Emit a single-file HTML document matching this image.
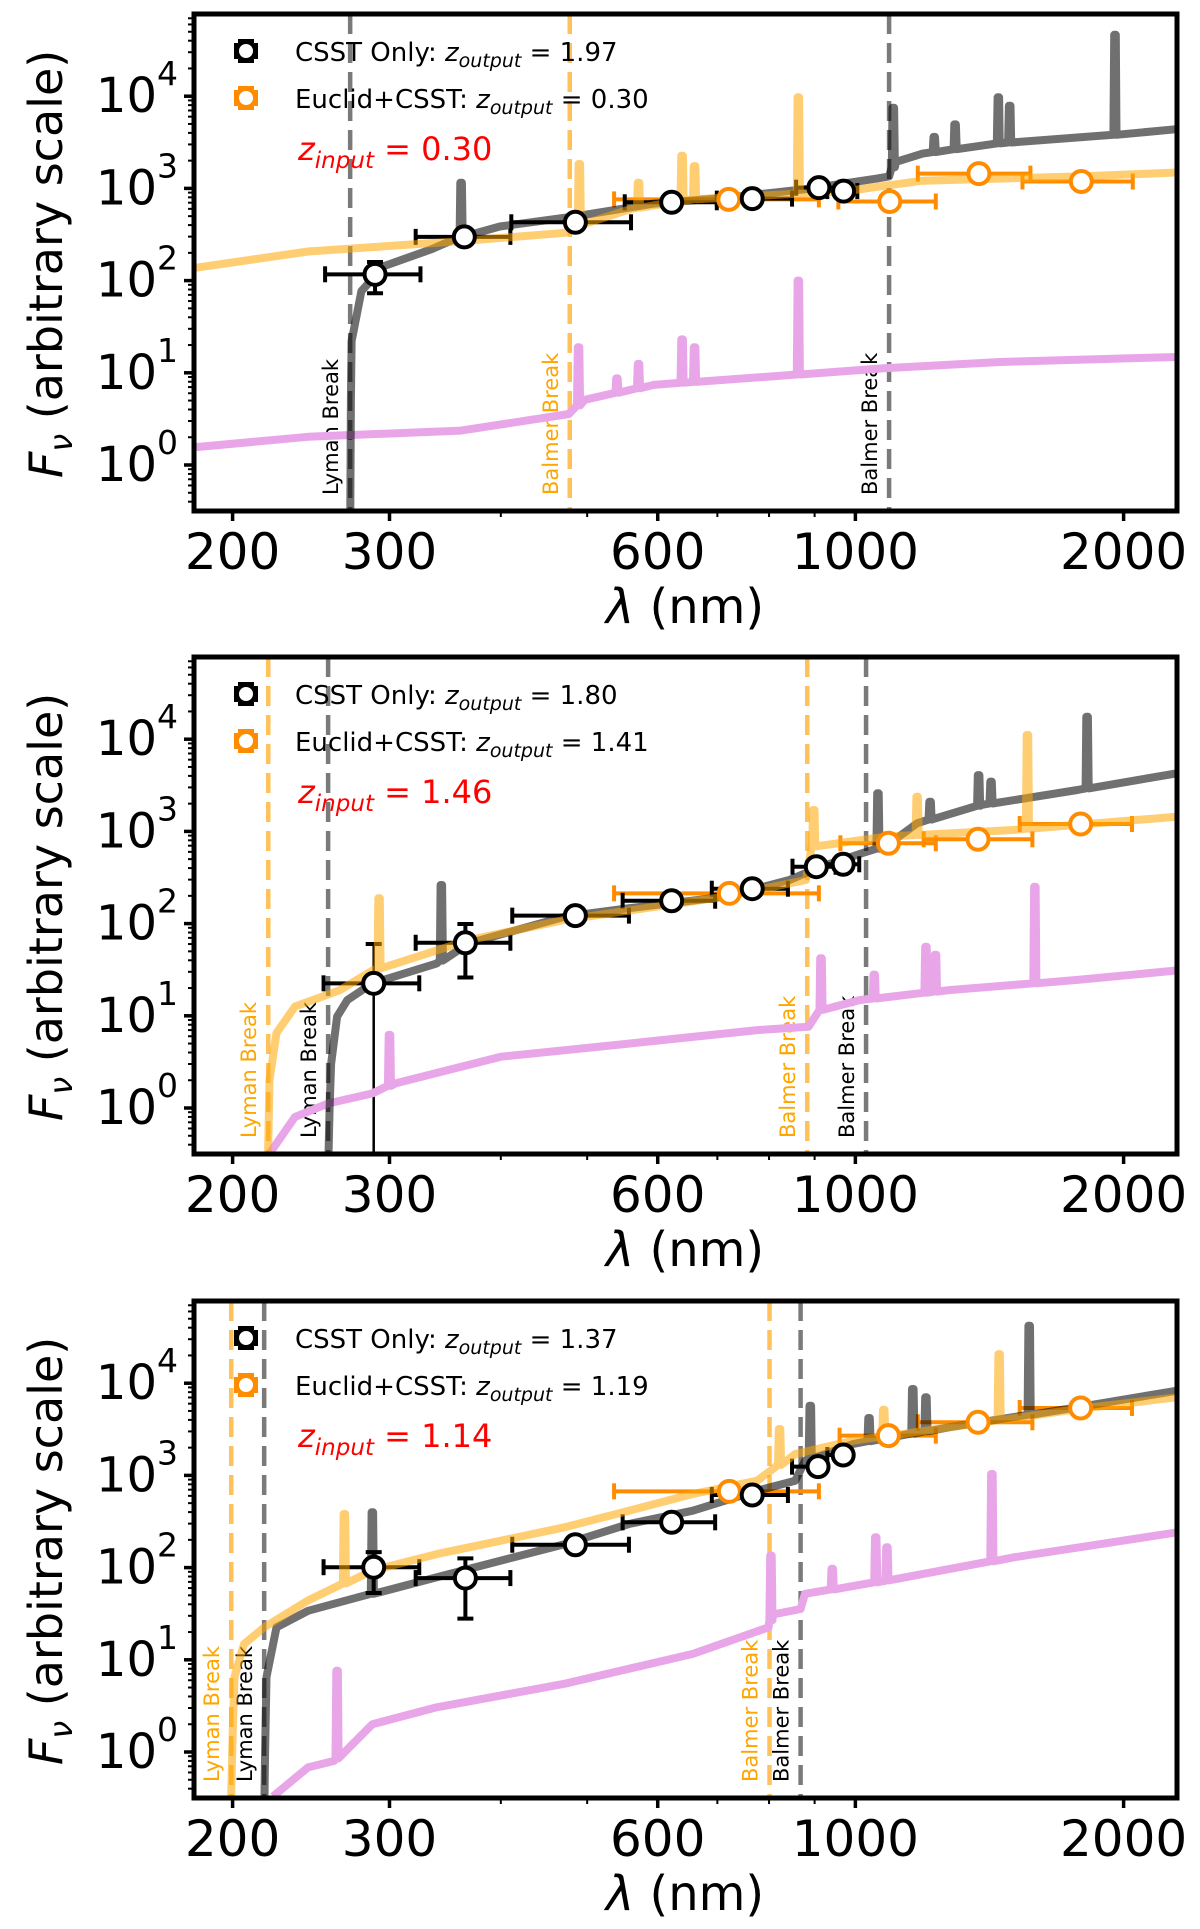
<!DOCTYPE html>
<html><head><meta charset="utf-8"><style>
html,body{margin:0;padding:0;background:#fff;}
svg{display:block;font-family:"DejaVu Sans","Liberation Sans",sans-serif;}
</style></head><body>
<svg id="fig" width="1200" height="1929" viewBox="0 0 1200 1929" xmlns="http://www.w3.org/2000/svg"></svg>
<script>
// ---------- data (wavelength nm, flux arbitrary) ----------
const panelTops = [14, 657, 1301];
const zInputs = ["0.30", "1.46", "1.14"];
const zCSST = ["1.97", "1.80", "1.37"];
const zEuclid = ["0.30", "1.41", "1.19"];
const xTickVals = [200, 300, 600, 1000, 2000];
const yTickExps = [0, 1, 2, 3, 4];

// Panel 1
const p1GrayLam = [271, 271.5, 272, 279, 296, 334, 361, 399, 487, 594, 724, 883, 1057, 1091, 1110, 1190, 1452, 1956, 2330];
const p1GrayFlux = [0.2, 5, 22, 77, 144, 218, 298, 386, 501, 684, 800, 985, 1277, 1350, 1938, 2384, 3090, 3812, 4453];
const p1GrayLineLam = [361, 1103, 1226, 1294, 1447, 1490, 1956];
const p1GrayLinePeak = [1153, 7500, 3620, 4940, 9730, 7890, 46300];
const p1OrangeLam = [180, 243, 361, 472, 490, 560, 656, 976, 1190, 1772, 2330];
const p1OrangeFlux = [136, 207, 268, 330, 400, 600, 760, 935, 1213, 1346, 1496];
const p1OrangeLineLam = [490, 571, 639, 660, 863];
const p1OrangeLinePeak = [1840, 1153, 2260, 1745, 9730];
const p1VioletLam = [180, 243, 361, 477, 497, 594, 800, 1078, 1452, 2330];
const p1VioletFlux = [1.55, 2.02, 2.36, 3.57, 5.1, 7.4, 9.1, 11.2, 13.1, 14.9];
const p1VioletLineLam = [489, 540, 571, 639, 660, 863];
const p1VioletLinePeak = [18.9, 8.7, 12.5, 23, 18.9, 100];
const p1BlackLam = [289, 364, 485, 622, 766, 910, 970];
const p1BlackFlux = [117, 298, 429, 707, 775, 1018, 935];
const p1BlackLamLo = [254, 321, 411, 551, 699, 858, 930];
const p1BlackLamHi = [325, 410, 560, 699, 849, 960, 1005];
const p1BlackFluxLo = [73, 280, 400, 680, 750, 960, 890];
const p1BlackFluxHi = [159, 320, 460, 740, 800, 1080, 980];
const p1OrangePtLam = [721, 1093, 1376, 1793];
const p1OrangePtFlux = [760, 721, 1447, 1188];
const p1OrangePtLamLo = [536, 957, 1175, 1540];
const p1OrangePtLamHi = [910, 1231, 1572, 2048];
const p1Breaks = [[271, "gray", "Lyman Break"], [478, "orange", "Balmer Break"], [1091, "gray", "Balmer Break"]];

// Panel 2
const p2GrayLam = [256, 257, 258, 262, 269, 287, 339, 368, 472, 557, 714, 843, 915, 1011, 1080, 1173, 1385, 1775, 2295];
const p2GrayFlux = [0.2, 1, 3, 9.8, 14.8, 22.5, 37, 61, 119, 147, 196, 297, 414, 569, 683, 1223, 1932, 2812, 4266];
const p2GrayLineLam = [343, 1060, 1213, 1375, 1420, 1820];
const p2GrayLinePeak = [262, 2590, 2100, 4080, 3470, 17500];
const p2OrangeLam = [219, 220, 224, 235, 264, 287, 368, 472, 714, 880, 893, 1080, 1503, 2295];
const p2OrangeFlux = [0.2, 2, 6.5, 12.6, 19, 31, 66, 110, 196, 297, 683, 877, 1036, 1445];
const p2OrangeLineLam = [292, 898, 1173, 1560];
const p2OrangeLinePeak = [188, 1707, 2380, 11100];
const p2VioletLam = [219, 235, 256, 287, 305, 400, 557, 776, 886, 915, 1011, 1274, 1775, 2295];
const p2VioletFlux = [0.3, 0.8, 1.12, 1.44, 1.86, 3.6, 5.0, 7.0, 7.6, 11.6, 14.8, 19, 24.5, 31];
const p2VioletLineLam = [300, 915, 1050, 1200, 1230, 1590];
const p2VioletLinePeak = [6.2, 42, 28, 56, 46, 251];
const p2BlackLam = [288, 365, 485, 622, 766, 904, 969];
const p2BlackFlux = [22.5, 62, 122, 177, 239, 414, 440];
const p2BlackLamLo = [253, 321, 412, 548, 690, 850, 915];
const p2BlackLamHi = [324, 410, 557, 696, 840, 950, 1010];
const p2BlackFluxLo = [0.01, 26, 115, 168, 226, 390, 415];
const p2BlackFluxHi = [60, 99, 130, 186, 252, 440, 470];
const p2OrangePtLam = [722, 1089, 1373, 1790];
const p2OrangePtFlux = [213, 743, 821, 1203];
const p2OrangePtLamLo = [536, 962, 1193, 1529];
const p2OrangePtLamHi = [910, 1231, 1580, 2044];
const p2Breaks = [[219.3, "orange", "Lyman Break"], [256, "gray", "Lyman Break"], [883, "orange", "Balmer Break"], [1028, "gray", "Balmer Break"]];

// Panel 3
const p3GrayLam = [217, 217.5, 218.3, 224, 243, 287, 339, 400, 472, 557, 657, 776, 856, 878, 994, 1274, 1775, 2295];
const p3GrayFlux = [0.2, 1, 6.5, 22.5, 34, 52, 78.5, 119, 180, 297, 414, 683, 877, 1445, 2190, 3325, 5480, 8300];
const p3GrayLineLam = [287, 890, 1036, 1160, 1200, 1567];
const p3GrayLinePeak = [398, 5700, 4195, 8650, 7030, 42000];
const p3OrangeLam = [199, 200, 201, 206, 217, 243, 287, 339, 400, 472, 557, 657, 776, 856, 994, 1274, 1775, 2295];
const p3OrangeFlux = [0.2, 1.5, 6.5, 14.8, 22.5, 44, 93, 140, 196, 274, 414, 629, 877, 1707, 2381, 3325, 5250, 7030];
const p3OrangeLineLam = [267, 822, 1076, 1450];
const p3OrangeLinePeak = [381, 3190, 5140, 20700];
const p3VioletLam = [222, 243, 260, 268, 287, 339, 472, 657, 799, 808, 868, 878, 1080, 1504, 2295];
const p3VioletFlux = [0.33, 0.68, 0.80, 1.03, 2.0, 3.05, 5.5, 11.6, 22.5, 31, 35.6, 52, 72, 129, 241];
const p3VioletLineLam = [262, 804, 942, 1054, 1085, 1423];
const p3VioletLinePeak = [7.6, 135, 97, 213, 166, 1036];
const p3BlackLam = [288, 365, 485, 622, 766, 908, 969];
const p3BlackFlux = [101, 77, 177, 310, 613, 1244, 1665];
const p3BlackLamLo = [253, 321, 412, 548, 690, 849, 930];
const p3BlackLamHi = [324, 410, 557, 696, 840, 915, 985];
const p3BlackFluxLo = [53, 28, 165, 290, 570, 1120, 1450];
const p3BlackFluxHi = [147, 126, 190, 335, 660, 1380, 1900];
const p3OrangePtLam = [722, 1089, 1373, 1790];
const p3OrangePtFlux = [672, 2697, 3767, 5383];
const p3OrangePtLamLo = [536, 960, 1175, 1529];
const p3OrangePtLamHi = [910, 1231, 1580, 2044];
const p3Breaks = [[199.3, "orange", "Lyman Break"], [217, "gray", "Lyman Break"], [801, "orange", "Balmer Break"], [868, "gray", "Balmer Break"]];

// ---------- drawing ----------
const NS = "http://www.w3.org/2000/svg";
const svg = document.getElementById("fig");
const LEFT = 194, RIGHT = 1177, H = 497;
const X = l => 232.6 + 891 * Math.log10(l / 200);
const Yf = (f, T) => T + 451 - 92.2 * Math.log10(f);
function mk(tag, attrs, parent) {
  const e = document.createElementNS(NS, tag);
  for (const k in attrs) e.setAttribute(k, attrs[k]);
  (parent || svg).appendChild(e);
  return e;
}
const defs = mk("defs", {});

function interpLog(lams, fl, l) {
  for (let i = 0; i < lams.length - 1; i++) {
    if (l >= lams[i] && l <= lams[i + 1]) {
      const t = (Math.log(l) - Math.log(lams[i])) / (Math.log(lams[i + 1]) - Math.log(lams[i]));
      return Math.exp(Math.log(fl[i]) + t * (Math.log(fl[i + 1]) - Math.log(fl[i])));
    }
  }
  return fl[fl.length - 1];
}
function spectrumPath(lams, fl, lineLam, linePeak, T) {
  let pts = lams.map((l, i) => [l, fl[i]]);
  lineLam.forEach((L, i) => {
    const c = interpLog(lams, fl, L);
    pts.push([L * 0.996, c], [L * 0.998, linePeak[i]], [L * 1.002, linePeak[i]], [L * 1.004, c]);
  });
  pts.sort((a, b) => a[0] - b[0]);
  return pts.map((p, i) => (i ? "L" : "M") + X(p[0]).toFixed(1) + "," + Yf(p[1], T).toFixed(1)).join(" ");
}

const panels = [
  { gl: p1GrayLam, gf: p1GrayFlux, gll: p1GrayLineLam, glp: p1GrayLinePeak, ol: p1OrangeLam, of: p1OrangeFlux, oll: p1OrangeLineLam, olp: p1OrangeLinePeak, vl: p1VioletLam, vf: p1VioletFlux, vll: p1VioletLineLam, vlp: p1VioletLinePeak, bl: p1BlackLam, bf: p1BlackFlux, blo: p1BlackLamLo, bhi: p1BlackLamHi, bflo: p1BlackFluxLo, bfhi: p1BlackFluxHi, opl: p1OrangePtLam, opf: p1OrangePtFlux, oplo: p1OrangePtLamLo, ophi: p1OrangePtLamHi, br: p1Breaks },
  { gl: p2GrayLam, gf: p2GrayFlux, gll: p2GrayLineLam, glp: p2GrayLinePeak, ol: p2OrangeLam, of: p2OrangeFlux, oll: p2OrangeLineLam, olp: p2OrangeLinePeak, vl: p2VioletLam, vf: p2VioletFlux, vll: p2VioletLineLam, vlp: p2VioletLinePeak, bl: p2BlackLam, bf: p2BlackFlux, blo: p2BlackLamLo, bhi: p2BlackLamHi, bflo: p2BlackFluxLo, bfhi: p2BlackFluxHi, opl: p2OrangePtLam, opf: p2OrangePtFlux, oplo: p2OrangePtLamLo, ophi: p2OrangePtLamHi, br: p2Breaks },
  { gl: p3GrayLam, gf: p3GrayFlux, gll: p3GrayLineLam, glp: p3GrayLinePeak, ol: p3OrangeLam, of: p3OrangeFlux, oll: p3OrangeLineLam, olp: p3OrangeLinePeak, vl: p3VioletLam, vf: p3VioletFlux, vll: p3VioletLineLam, vlp: p3VioletLinePeak, bl: p3BlackLam, bf: p3BlackFlux, blo: p3BlackLamLo, bhi: p3BlackLamHi, bflo: p3BlackFluxLo, bfhi: p3BlackFluxHi, opl: p3OrangePtLam, opf: p3OrangePtFlux, oplo: p3OrangePtLamLo, ophi: p3OrangePtLamHi, br: p3Breaks }
];

panels.forEach((P, pi) => {
  const T = panelTops[pi], B = T + H;
  const g = mk("g", {});
  
  
  const cp = mk("clipPath", { id: "clip" + pi }, defs);
  mk("rect", { x: LEFT, y: T, width: RIGHT - LEFT, height: H }, cp);
  const plot = mk("g", { "clip-path": "url(#clip" + pi + ")" }, g);
  
  

  // break lines
  P.br.forEach(b => {
    const x = X(b[0]);
    const ln = mk("line", { x1: x, x2: x, y1: T, y2: B, stroke: b[1] === "orange" ? "#ffc15a" : "#7a7a7a", "stroke-width": 4.5, "stroke-dasharray": "20 9" }, plot);
    
    
    const tx = mk("text", { transform: "translate(" + (x - 12) + "," + (B - 16) + ") rotate(-90)", "font-size": 21, fill: b[1] === "orange" ? "#ffa500" : "#000" }, plot);
    tx.textContent = b[2];
    
    
  });

  // error bars
  const errG = mk("g", {}, plot);
  
  
  function errbar(x1, x2, y1, y2, cx, cy, col) {
    mk("line", { x1: X(x1), x2: X(x2), y1: Yf(cy, T), y2: Yf(cy, T), stroke: col, "stroke-width": 4 }, errG);
    [x1, x2].forEach(v => mk("line", { x1: X(v), x2: X(v), y1: Yf(cy, T) - 8, y2: Yf(cy, T) + 8, stroke: col, "stroke-width": 4 }, errG));
    if (y1 !== null) {
      const ya = Yf(y1, T), yb = Yf(y2, T);
      mk("line", { x1: X(cx), x2: X(cx), y1: Math.min(ya, B), y2: yb, stroke: col, "stroke-width": pi === 1 && y1 < 0.1 ? 2.5 : 4 }, errG);
      [ya, yb].forEach(v => { if (v < B) mk("line", { x1: X(cx) - 8, x2: X(cx) + 8, y1: v, y2: v, stroke: col, "stroke-width": 4 }, errG); });
    }
  }
  P.opl.forEach((l, i) => errbar(P.oplo[i], P.ophi[i], null, null, l, P.opf[i], "#ff8c00"));
  P.bl.forEach((l, i) => errbar(P.blo[i], P.bhi[i], P.bflo[i], P.bfhi[i], l, P.bf[i], "#000"));

  // spectra
  const sv = mk("path", { d: spectrumPath(P.vl, P.vf, P.vll, P.vlp, T), fill: "none", stroke: "#e8a6e8", "stroke-width": 8, "stroke-linejoin": "round" }, plot);
  
  
  const sg = mk("path", { d: spectrumPath(P.gl, P.gf, P.gll, P.glp, T), fill: "none", stroke: "#000", "stroke-opacity": 0.56, "stroke-width": 8, "stroke-linejoin": "round" }, plot);
  
  
  const so = mk("path", { d: spectrumPath(P.ol, P.of, P.oll, P.olp, T), fill: "none", stroke: "#ffa500", "stroke-opacity": 0.55, "stroke-width": 8, "stroke-linejoin": "round" }, plot);
  
  

  // markers
  P.opl.forEach((l, i) => {
    const c = mk("circle", { cx: X(l), cy: Yf(P.opf[i], T), r: 10.5, fill: "#fff", stroke: "#ff8c00", "stroke-width": 4 }, plot);
    
    
  });
  P.bl.forEach((l, i) => {
    const c = mk("circle", { cx: X(l), cy: Yf(P.bf[i], T), r: 10.5, fill: "#fff", stroke: "#000", "stroke-width": 4 }, plot);
    
    
  });

  // frame
  const fr = mk("rect", { x: LEFT, y: T, width: RIGHT - LEFT, height: H, fill: "none", stroke: "#000", "stroke-width": 5 }, g);
  
  

  // x ticks
  const minorX = [];
  [100, 1000].forEach(d => { for (let k = 1; k < 10; k++) minorX.push(k * d); });
  minorX.forEach(v => {
    if (v < 181 || v > 2290 || xTickVals.includes(v)) return;
    mk("line", { x1: X(v), x2: X(v), y1: B + 2, y2: B + 6, stroke: "#000", "stroke-width": 2 }, g);
  });
  xTickVals.forEach(v => {
    mk("line", { x1: X(v), x2: X(v), y1: B + 2, y2: B + 10, stroke: "#000", "stroke-width": 3.5 }, g);
    const t = mk("text", { x: X(v), y: B + 58, "font-size": 50, "text-anchor": "middle" }, g);
    t.textContent = v;
    
    
  });
  const xl = mk("text", { x: 685, y: B + 112, "font-size": 48, "text-anchor": "middle" }, g);
  xl.innerHTML = '<tspan font-style="italic">λ</tspan> (nm)';
  
  

  // y ticks
  for (let e = -1; e <= 4; e++) {
    for (let k = 2; k < 10; k++) {
      const y = Yf(k * Math.pow(10, e), T);
      if (y > T && y < B) mk("line", { x1: LEFT - 2, x2: LEFT - 6, y1: y, y2: y, stroke: "#000", "stroke-width": 2 }, g);
    }
  }
  yTickExps.forEach(e => {
    const y = Yf(Math.pow(10, e), T);
    mk("line", { x1: LEFT - 2, x2: LEFT - 10, y1: y, y2: y, stroke: "#000", "stroke-width": 3.5 }, g);
    const t = mk("text", { x: 178, y: y + 16, "font-size": 48, "text-anchor": "end" }, g);
    t.innerHTML = '10<tspan font-size="33" dy="-27">' + e + '</tspan>';
    
    
  });
  const yl = mk("text", { transform: "translate(62," + (T + 250) + ") rotate(-90)", "font-size": 46, "text-anchor": "middle" }, g);
  yl.innerHTML = '<tspan font-style="italic">F</tspan><tspan font-style="italic" font-size="32" dy="10">ν</tspan><tspan dy="-10"> (arbitrary scale)</tspan>';
  
  

  // legend
  const lg = mk("g", {}, g);
  
  
  [["#000", "CSST Only: ", zCSST[pi], 49], ["#ff8c00", "Euclid+CSST: ", zEuclid[pi], 96]].forEach(r => {
    const yy = T + r[3] - 12;
    mk("line", { x1: 236, x2: 256, y1: yy, y2: yy, stroke: r[0], "stroke-width": 4 }, lg);
    mk("line", { x1: 246, x2: 246, y1: yy - 10, y2: yy + 10, stroke: r[0], "stroke-width": 4 }, lg);
    [236, 256].forEach(v => mk("line", { x1: v, x2: v, y1: yy - 8, y2: yy + 8, stroke: r[0], "stroke-width": 4 }, lg));
    [yy - 10, yy + 10].forEach(v => mk("line", { x1: 238, x2: 254, y1: v, y2: v, stroke: r[0], "stroke-width": 4 }, lg));
    mk("circle", { cx: 246, cy: yy, r: 9, fill: "#fff", stroke: r[0], "stroke-width": 4 }, lg);
    const t = mk("text", { x: 295, y: T + r[3] - 2, "font-size": 26 }, lg);
    t.innerHTML = r[1] + '<tspan font-style="italic">z</tspan><tspan font-style="italic" font-size="19" dy="6">output</tspan><tspan dy="-6"> = ' + r[2] + '</tspan>';
    
    
  });
  const zi = mk("text", { x: 298, y: T + 146, "font-size": 32, fill: "#ff0000" }, g);
  zi.innerHTML = '<tspan font-style="italic">z</tspan><tspan font-style="italic" font-size="23" dy="8">input</tspan><tspan dy="-8"> = ' + zInputs[pi] + '</tspan>';
  
  
});
</script>
</body></html>
